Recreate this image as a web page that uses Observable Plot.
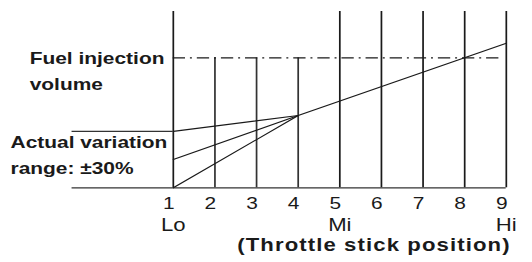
<!DOCTYPE html>
<html><head><meta charset="utf-8">
<script src="https://cdn.jsdelivr.net/npm/d3@7"></script>
<script src="https://cdn.jsdelivr.net/npm/@observablehq/plot@0.6"></script>
<style>
html,body{margin:0;padding:0;background:#fff;}
</style>
</head><body><div id="chart"></div>
<script>
// Throttle stick positions and names
const positions = [1, 2, 3, 4, 5, 6, 7, 8, 9];
const positionNames = {1: "Lo", 5: "Mi", 9: "Hi"};
// Fuel injection volume level (dash-dot line)
const fuelLevel = 73.7;
const fuelLineEnd = 8.91;
// Posts
const fullPosts = [1, 5, 6, 7, 8, 9];
const shortPosts = [2, 3, 4];
// Curves (x, y)
const nominalX = [1, 4, 9];
const nominalY = [16, 41, 82];
const upperX = [1, 4];
const upperY = [32, 41];
const lowerX = [1, 4];
const lowerY = [0, 41];
// Left reference lines
const refLeft = -1.43;
const refLevels = [0, 32];
const refRight = [9, 1];
// Annotation labels
const labelText = ["Fuel injection", "volume", "Actual variation", "range: ±30%"];
const labelX = [-2.45, -2.45, -2.91, -2.91];
const labelY = [73.4, 58.4, 25.4, 10.9];
const axisTitle = "(Throttle stick position)";
const axisTitleX = 5.82;
const axisTitleY = -32.6;

const S = 1.23; // horizontal stretch of the original picture
const W0 = 532 / S;

const curves = [];
nominalX.forEach((x, i) => curves.push({s: "nominal", x, y: nominalY[i]}));
upperX.forEach((x, i) => curves.push({s: "upper", x, y: upperY[i]}));
lowerX.forEach((x, i) => curves.push({s: "lower", x, y: lowerY[i]}));
const refs = refLevels.map((y, i) => ({y, x1: refLeft, x2: refRight[i]}));
const labels = labelText.map((t, i) => ({text: t, x: labelX[i], y: labelY[i]}));

const ink = "#1a1a1a";
const chart = Plot.plot({
  width: W0,
  height: 262,
  marginLeft: 172.7 / S,
  marginRight: W0 - 505.7 / S,
  marginTop: 11,
  marginBottom: 74.7,
  style: {fontFamily: "Liberation Sans, Arial, sans-serif", fontSize: "17px", color: ink, background: "#fff"},
  x: {domain: [1, 9], label: null},
  y: {domain: [0, 100], label: null, axis: null},
  marks: [
    Plot.ruleX(fullPosts, {y1: 0, y2: 100, stroke: ink, strokeWidth: 1.4}),
    Plot.ruleX(shortPosts, {y1: 0, y2: fuelLevel, stroke: "#333", strokeWidth: 1.4}),
    Plot.ruleY([fuelLevel], {x1: 1, x2: fuelLineEnd, stroke: ink, strokeWidth: 1.3, strokeDasharray: "10,4,1.6,4"}),
    Plot.ruleY(refs, {y: "y", x1: "x1", x2: "x2", stroke: "#333", strokeWidth: 1.2}),
    Plot.line(curves, {x: "x", y: "y", z: "s", stroke: ink, strokeWidth: 1.1}),
    Plot.axisX(positions, {tickSize: 0, tickPadding: 9, textAnchor: "end", dx: 1, label: null, fontSize: 17}),
    Plot.axisX([1, 5, 9], {tickSize: 0, tickPadding: 30.5, tickFormat: d => positionNames[d], label: null, fontSize: 18}),
    Plot.text(labels, {x: "x", y: "y", text: "text", textAnchor: "start", fontWeight: "bold", fontSize: 17, fill: ink}),
    Plot.text([axisTitle], {x: axisTitleX, y: axisTitleY, text: d => d, fontWeight: "bold", fontSize: 18, fill: ink})
  ]
});
d3.select(chart).selectAll("text")
  .filter(function() { return this.textContent === axisTitle; })
  .style("letter-spacing", "0.9px");
chart.setAttribute("width", 532);
chart.setAttribute("height", 262);
chart.setAttribute("preserveAspectRatio", "none");
chart.style.maxWidth = "none";
chart.style.width = "532px";
chart.style.height = "262px";
document.getElementById("chart").appendChild(chart);
</script>
</body></html>
